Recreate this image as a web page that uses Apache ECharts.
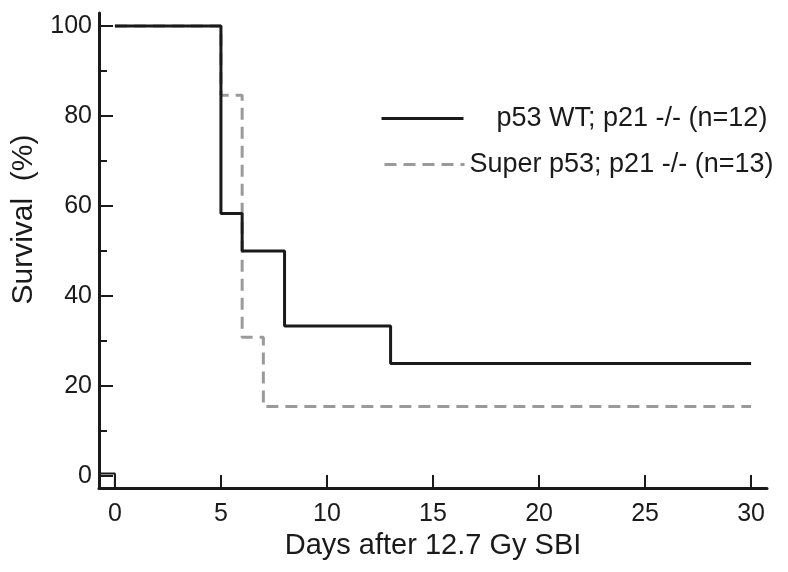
<!DOCTYPE html>
<html>
<head>
<meta charset="utf-8">
<script src="https://cdn.jsdelivr.net/npm/echarts@6/dist/echarts.min.js"></script>
<style>
html,body{margin:0;padding:0;background:#fff;}
#chart{width:788px;height:572px;}
</style>
</head>
<body>
<div id="chart"></div>
<script>
// Data
const seriesNames = ['p53 WT; p21 -/- (n=12)', 'Super p53; p21 -/- (n=13)'];
const wtDays = [0, 5, 6, 8, 13, 30];
const wtSurvival = [100, 58.3, 50, 33.3, 25, 25];
const superDays = [0, 5, 6, 7, 30];
const superSurvival = [100, 84.6, 30.8, 15.4, 15.4];
const originBoxX = [-0.75, 0, 0];
const originBoxY = [0.5, 0.5, -2.7];
const xTickValues = [0, 5, 10, 15, 20, 25, 30];
const yTickValues = [0, 20, 40, 60, 80, 100];
const yMinorTickValues = [10, 30, 50, 70, 90];

const zip = (xs, ys) => xs.map((x, i) => [x, ys[i]]);

const font = 'Liberation Sans, Arial, Helvetica, sans-serif';
const ink = '#1a1a1a';
const grey = '#9a9a9a';
const X_MIN = -0.75, X_MAX = 30.75, Y_MIN = -2.7, Y_MAX = 102.9;

const chart = echarts.init(document.getElementById('chart'), null, {renderer: 'canvas'});
chart.setOption({
  animation: false,
  backgroundColor: '#ffffff',
  grid: {left: 99, right: 21, top: 13, bottom: 84, containLabel: false},
  legend: [
    {
      data: [seriesNames[0]],
      left: 380, top: 105, padding: 0,
      itemWidth: 82, itemHeight: 24,
      itemStyle: {opacity: 0},
      lineStyle: {width: 3, color: ink},
      textStyle: {fontFamily: font, fontSize: 27, color: ink, padding: [0, 0, 12, 28]}
    },
    {
      data: [seriesNames[1]],
      left: 383, top: 151, padding: 0,
      itemWidth: 80, itemHeight: 24,
      itemStyle: {opacity: 0},
      lineStyle: {width: 3, color: grey, type: [12, 7]},
      textStyle: {fontFamily: font, fontSize: 27, color: ink}
    }
  ],
  xAxis: {
    type: 'value', min: X_MIN, max: X_MAX,
    name: 'Days after 12.7 Gy SBI', nameLocation: 'middle', nameGap: 42,
    nameTextStyle: {fontFamily: font, fontSize: 29, color: ink},
    axisLine: {show: true, onZero: false, lineStyle: {color: ink, width: 3}},
    axisTick: {show: true, inside: true, length: 13, customValues: xTickValues, lineStyle: {color: ink, width: 2}},
    axisLabel: {customValues: xTickValues, fontFamily: font, fontSize: 25, color: ink, margin: 14},
    splitLine: {show: false}
  },
  yAxis: [
    {
      type: 'value', min: Y_MIN, max: Y_MAX,
      name: 'Survival  (%)', nameLocation: 'middle', nameGap: 60, nameRotate: 90,
      nameTextStyle: {fontFamily: font, fontSize: 30, color: ink, padding: [0, 0, 0, 62]},
      axisLine: {show: true, onZero: false, lineStyle: {color: ink, width: 3}},
      axisTick: {show: true, inside: true, length: 14, customValues: yTickValues, lineStyle: {color: ink, width: 2}},
      axisLabel: {customValues: yTickValues, fontFamily: font, fontSize: 25, color: ink, margin: 7, padding: [0, 0, 8, 0]},
      splitLine: {show: false}
    },
    {
      type: 'value', min: Y_MIN, max: Y_MAX, position: 'left',
      axisLine: {show: false, onZero: false},
      axisTick: {show: true, inside: true, length: 8, customValues: yMinorTickValues, lineStyle: {color: ink, width: 2}},
      axisLabel: {show: false},
      splitLine: {show: false}
    }
  ],
  series: [
    {
      name: seriesNames[0], type: 'line', step: 'end', symbol: 'none',
      data: zip(wtDays, wtSurvival),
      lineStyle: {color: ink, width: 3},
      itemStyle: {color: ink},
      z: 3
    },
    {
      name: seriesNames[1], type: 'line', step: 'end', symbol: 'none',
      data: zip(superDays, superSurvival),
      lineStyle: {color: grey, width: 3, type: [12, 7]},
      itemStyle: {color: grey},
      z: 2
    },
    {
      name: 'origin', type: 'line', symbol: 'none', silent: true,
      data: zip(originBoxX, originBoxY),
      lineStyle: {color: ink, width: 2},
      z: 1
    }
  ]
});
</script>
</body>
</html>
